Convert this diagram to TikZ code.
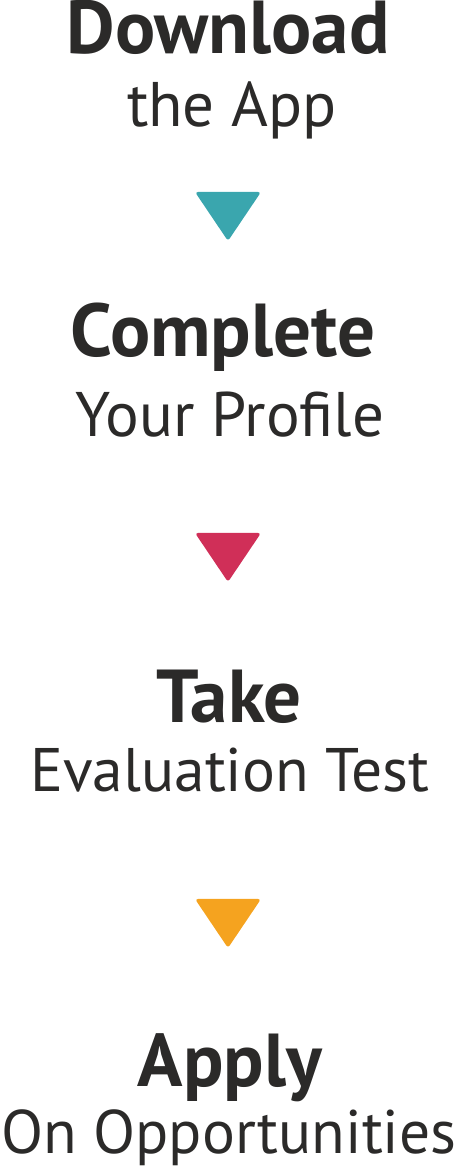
\documentclass[tikz,border=0pt]{standalone}
\usepackage{fontspec}
\setmainfont{PT Sans}
\usetikzlibrary{positioning, calc}
\definecolor{inkdark}{HTML}{2B2A29}
\definecolor{stepteal}{HTML}{3AA6AE}
\definecolor{stepred}{HTML}{D02F58}
\definecolor{steporange}{HTML}{F5A31F}

\begin{document}
\begin{tikzpicture}[
        x=1pt, y=1pt,
        head/.style={anchor=base, inner sep=0pt, text=inkdark, font=\fontsize{75}{75}\selectfont\bfseries},
        sub/.style={anchor=base, inner sep=0pt, text=inkdark, font=\fontsize{63}{63}\selectfont},
        marker/.style={rounded corners=3pt}
    ]
    \useasboundingbox (0,0) rectangle (458,1168);

    % step titles
    \node (download) [head] at (228,1114) {Download};
    \node (theapp) [sub] at (232,1041) {the App};

    \node (complete) [head] at (223,811) {Complete};
    \node (profile) [sub] at (230,731) {Your Profile};

    \node (take) [head] at (229,445) {Take};
    \node (evaluation) [sub, font=\fontsize{61.5}{61.5}\selectfont] at (230,376) {Evaluation Test};

    \node (apply) [head] at (230,81) {Apply};
    \node (opportunities) [sub, font=\fontsize{61.5}{61.5}\selectfont] at (229,15) {On Opportunities};

    % markers between the steps
    \coordinate (m1) at (228,976);
    \coordinate (m2) at (228,635);
    \coordinate (m3) at (228,269);
    \foreach \m/\c in {m1/stepteal, m2/stepred, m3/steporange}
        \fill [\c, marker] ($(\m)+(-33,0)$) -- ($(\m)+(33,0)$) -- ($(\m)+(0,-49)$) -- cycle;

\end{tikzpicture}
\end{document}
